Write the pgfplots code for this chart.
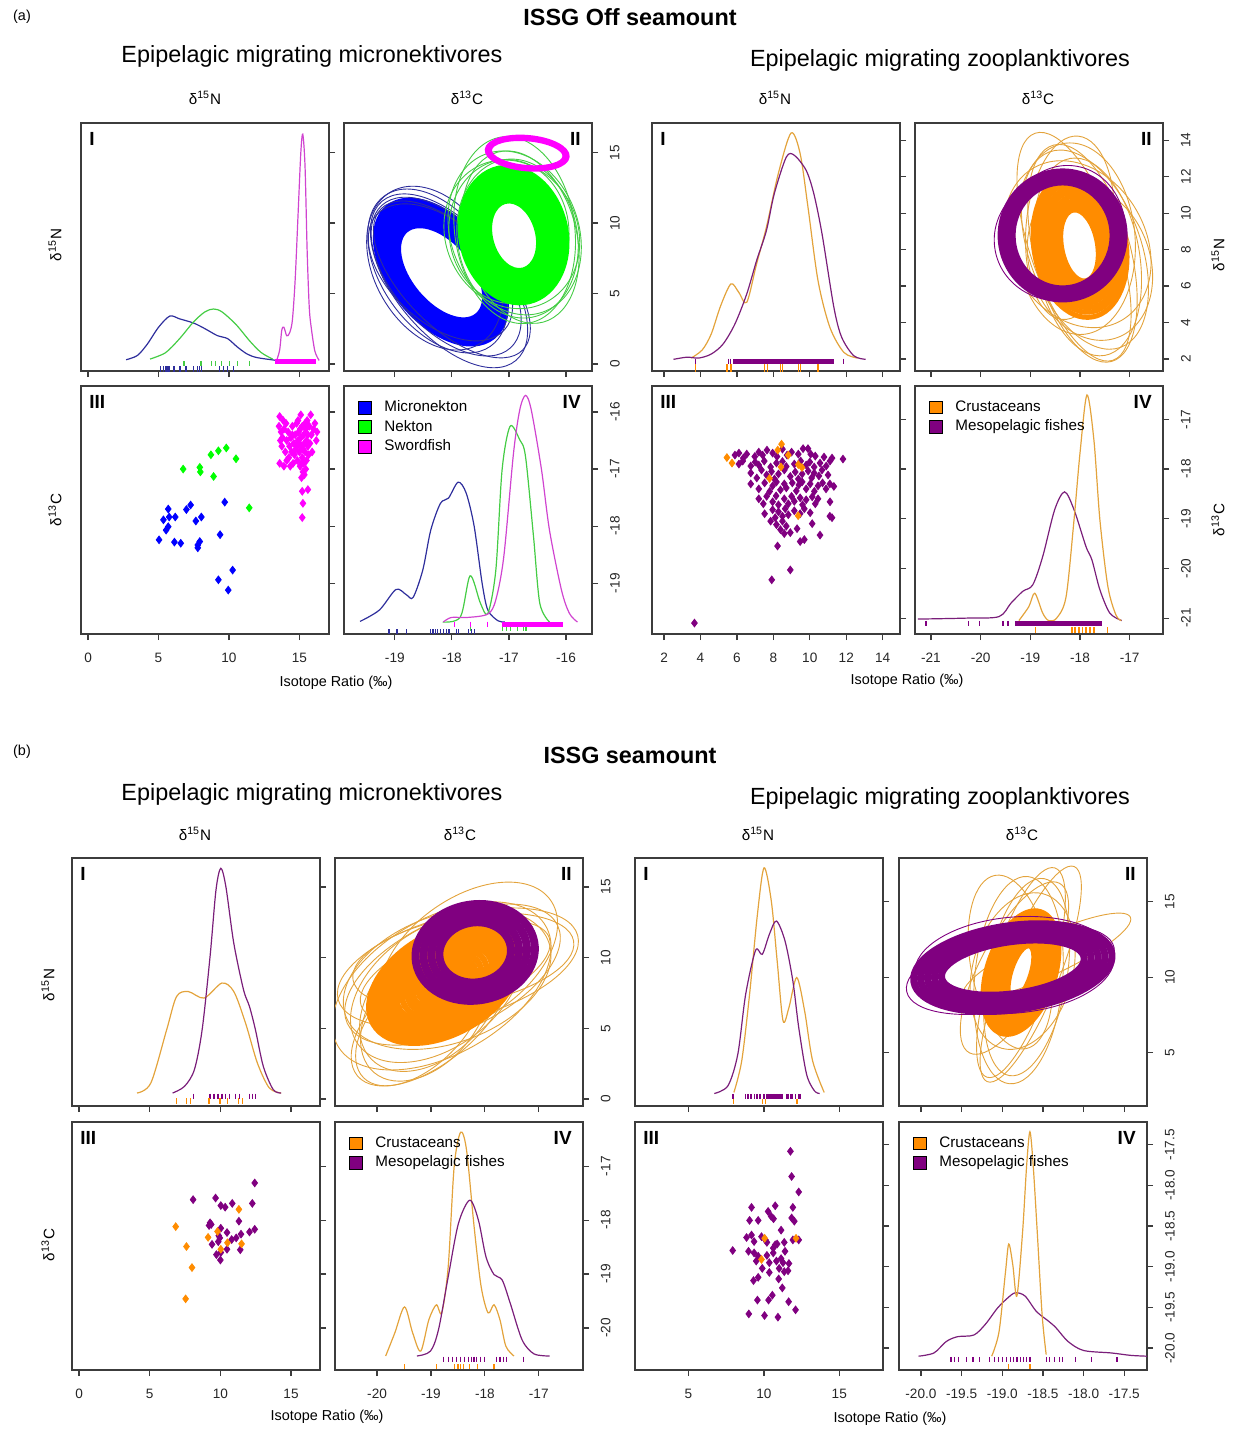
\documentclass[border=0pt]{standalone}
\usepackage{fontspec}
\setmainfont{Liberation Sans}
\usepackage{pgfplots}
\pgfplotsset{compat=1.18}

\definecolor{cblue}{HTML}{0000FF}
\definecolor{cnavy}{HTML}{2E2E9C}
\definecolor{cgreen}{HTML}{00FF00}
\definecolor{cgreenl}{HTML}{44CC44}
\definecolor{cmag}{HTML}{FF00FF}
\definecolor{cmagl}{HTML}{D044D0}
\definecolor{corange}{HTML}{FF8C00}
\definecolor{corangel}{HTML}{E3A33C}
\definecolor{cpurple}{HTML}{800080}
\definecolor{cpurplel}{HTML}{7A1E7A}
\definecolor{frame}{HTML}{3C3C3C}

\newcommand{\tf}{\fontsize{6.8}{8}\selectfont}
\newcommand{\lf}{\fontsize{7.2}{8.5}\selectfont}
\newcommand{\df}{\fontsize{7.6}{9}\selectfont}
\newcommand{\legf}{\fontsize{7.6}{9}\selectfont}
\newcommand{\titf}{\fontsize{11.7}{14}\selectfont}
\newcommand{\plab}{\fontsize{9.5}{11}\selectfont\bfseries}
\newcommand{\dN}{δ\textsuperscript{15}N}
\newcommand{\dC}{δ\textsuperscript{13}C}

\pgfdeclareplotmark{ell}{%
  \pgfmathsetmacro\ellA{\ellrot}%
  \pgfmathsetmacro\ellB{\ellrot+90}%
  \pgfpathellipse{\pgfpointorigin}{\pgfpointpolar{\ellA}{\ellrx pt}}{\pgfpointpolar{\ellB}{\ellry pt}}%
  \pgfusepathqstroke}

\pgfplotsset{
  panel/.style={scale only axis, width=124pt, height=124pt, anchor=north west,
    axis line style={draw=frame, line width=0.6pt},
    tick align=outside, major tick length=3pt,
    every tick/.style={draw=frame, line width=0.6pt},
    xtick pos=bottom, ytick pos=right,
    xticklabel pos=bottom, yticklabel pos=right,
    ticklabel style={font=\tf, text=black!85},
    xticklabel style={inner ysep=6.3pt},
    yticklabel style={rotate=90, anchor=north, inner ysep=5.8pt},
    clip marker paths=true,
    legend image code/.code={\draw[##1, draw=black, line width=0.4pt] (0pt,-3.2pt) rectangle (6.4pt,3.2pt);},
    legend style={draw=none, fill=none, font=\legf, anchor=north west, row sep=-1.2pt,
      /tikz/every odd column/.append style={column sep=4.5pt}},
    legend cell align=left},
  ell/.style 2 args={scatter, only marks, mark=ell,
    scatter/use mapped color={draw=#1, fill=none},
    line width=#2, mark options={line width=#2},
    visualization depends on={value \thisrow{rx}\as\ellrx},
    visualization depends on={value \thisrow{ry}\as\ellry},
    visualization depends on={value \thisrow{rot}\as\ellrot}},
  dens/.style={smooth, no marks, line width=0.6pt, draw=#1},
  rug/.style={only marks, mark=|, mark size=1.3pt, draw=#1, mark options={line width=0.6pt, draw=#1}},
  band/.style={no marks, line width=2.5pt, draw=#1},
  pts/.style={only marks, mark=diamond*, mark size=1.9pt, draw=#1, fill=#1, mark options={draw=#1, fill=#1}},
}

\begin{document}
\begin{tikzpicture}
\useasboundingbox (0,0) rectangle (617.5pt,-715pt);

%================ (a) TEXT =================
\node[font=\lf] at (11pt,-8.5pt) {(a)};
\node[font=\titf\bfseries] at (315pt,-8.5pt) {ISSG Off seamount};
\node[font=\titf] at (156pt,-28pt) {Epipelagic migrating micronektivores};
\node[font=\titf] at (470pt,-30pt) {Epipelagic migrating zooplanktivores};
\node[font=\df] at (102.5pt,-49pt) {\dN};
\node[font=\df] at (233.5pt,-49pt) {\dC};
\node[font=\df] at (387.5pt,-49pt) {\dN};
\node[font=\df] at (519pt,-49pt) {\dC};
\node[font=\df, rotate=90] at (27.5pt,-122.5pt) {\dN};
\node[font=\df, rotate=90] at (27.5pt,-255pt) {\dC};
\node[font=\df, rotate=90] at (609pt,-127.5pt) {\dN};
\node[font=\df, rotate=90] at (609pt,-260pt) {\dC};
\node[font=\lf] at (168pt,-341.5pt) {Isotope Ratio (‰)};
\node[font=\lf] at (453.5pt,-340.5pt) {Isotope Ratio (‰)};

%================ (b) TEXT =================
\node[font=\lf] at (11pt,-376pt) {(b)};
\node[font=\titf\bfseries] at (315pt,-377.5pt) {ISSG seamount};
\node[font=\titf] at (156pt,-397pt) {Epipelagic migrating micronektivores};
\node[font=\titf] at (470pt,-399pt) {Epipelagic migrating zooplanktivores};
\node[font=\df] at (97.5pt,-417pt) {\dN};
\node[font=\df] at (230pt,-417pt) {\dC};
\node[font=\df] at (379pt,-417pt) {\dN};
\node[font=\df] at (511pt,-417pt) {\dC};
\node[font=\df, rotate=90] at (24pt,-492.5pt) {\dN};
\node[font=\df, rotate=90] at (24pt,-622.5pt) {\dC};
\node[font=\lf] at (163.5pt,-708.5pt) {Isotope Ratio (‰)};
\node[font=\lf] at (445pt,-709.5pt) {Isotope Ratio (‰)};

%================ A-L-I =================
\begin{axis}[panel, at={(40.5pt,-61.5pt)}, xmin=-0.5, xmax=17.1, ymin=-0.5, ymax=17.1,
  xtick={0,5,10,15}, xticklabels={}, ytick={0,5,10,15}, yticklabels={}]
\addplot[dens=cnavy] coordinates {(2.7,0.3) (3.5,0.6) (4.2,1.4) (5.0,2.6) (5.8,3.4) (6.5,3.2) (7.5,2.9) (8.3,2.5) (9.2,2.0) (9.9,1.8) (10.6,1.2) (11.3,0.7) (12.0,0.45) (13.4,0.25)};
\addplot[dens=cgreenl] coordinates {(4.4,0.35) (5.5,0.8) (6.5,1.8) (7.5,3.0) (8.3,3.7) (8.9,3.9) (9.5,3.7) (10.5,2.8) (11.5,1.6) (12.3,0.8) (13.1,0.35)};
\addplot[dens=cmagl] coordinates {(13.4,0.3) (13.6,1.0) (13.75,2.4) (13.9,2.6) (14.1,2.0) (14.3,2.2) (14.5,3.1) (14.7,6) (14.9,10.5) (15.1,15) (15.24,16.3) (15.4,14) (15.55,8) (15.7,4) (15.85,2.5) (16.1,0.9) (16.4,0.25)};
\addplot[rug=cnavy] coordinates {(5.12,-0.36) (5.34,-0.36) (5.49,-0.36) (5.6,-0.36) (5.74,-0.36) (6.1,-0.36) (6.52,-0.36) (6.95,-0.36) (7.51,-0.36) (7.79,-0.36) (7.93,-0.36) (8.07,-0.36) (9.34,-0.36) (9.62,-0.36) (9.9,-0.36) (10.32,-0.36)};
\addplot[rug=cgreenl] coordinates {(6.81,0.03) (8.02,0.03) (8.78,0.03) (9.05,0.03) (9.47,0.03) (10.04,0.03) (10.6,0.03) (11.44,0.03)};
\addplot[band=cmag] coordinates {(13.3,0.2) (16.2,0.2)};
\node[anchor=north west, inner sep=0pt, font=\plab] at (rel axis cs:0.032,0.963) {I};
\end{axis}

%================ A-L-II =================
\begin{axis}[panel, at={(172pt,-61.5pt)}, xmin=-19.89, xmax=-15.545, ymin=-0.5, ymax=17.1,
  xtick={-19,-18,-17,-16}, xticklabels={}, ytick={0,5,10,15}, yticklabels={0,5,10,15}]
\addplot[ell={cblue}{3pt}] table {
x y rx ry rot
-18.18 6.47 28 16 -50
-18.18 6.47 30 17.2 -50
-18.18 6.47 32 18.4 -50
-18.18 6.47 34 19.6 -50
-18.18 6.47 36 20.8 -50
-18.18 6.47 38 22 -50
-18.16 6.43 40 23.2 -49
-18.20 6.52 41.5 24.4 -51
};
\addplot[ell={cnavy}{0.45pt}] table {
x y rx ry rot
-18.10 6.20 48 26 -48
-18.25 6.60 46 28 -55
-18.00 6.00 50 24 -45
-18.30 6.80 44 30 -60
-18.05 5.90 52 27 -50
-18.20 6.50 43 25 -42
};
\addplot[ell={cgreenl}{0.45pt}] table {
x y rx ry rot
-16.90 9.30 42 32 -70
-16.85 8.90 40 30 -80
-16.95 9.20 38 33 -65
-16.80 9.00 44 28 -75
-17.00 9.40 36 30 -85
-16.90 9.50 47 30 -82
};
\addplot[ell={cgreen}{3pt}] table {
x y rx ry rot
-16.91 9.10 18 12 -75
-16.91 9.10 20 13.75 -75
-16.91 9.10 22 15.5 -75
-16.91 9.10 24 17.25 -75
-16.91 9.10 26 19 -75
-16.91 9.10 28 20.75 -75
-16.91 9.10 30 22.5 -75
-16.91 9.10 32 24.25 -75
-16.92 9.15 34 26 -77
};
\addplot[ell={cmag}{1.6pt}] table {
x y rx ry rot
-16.68 14.96 19.5 7.5 -5
-16.68 14.96 18.5 6.7 -5
-16.68 14.96 20.5 8.3 -5
};
\node[anchor=north east, inner sep=0pt, font=\plab] at (rel axis cs:0.956,0.963) {II};
\end{axis}

%================ A-L-III =================
\begin{axis}[panel, at={(40.5pt,-193pt)}, xmin=-0.5, xmax=17.1, ymin=-19.89, ymax=-15.545,
  xtick={0,5,10,15}, xticklabels={0,5,10,15}, ytick={-19,-18,-17,-16}, yticklabels={}]
\addplot[pts=cblue] coordinates {(5.04,-18.24) (5.69,-17.70) (5.35,-17.89) (5.76,-17.84) (6.19,-17.84) (5.54,-18.07) (5.69,-18.01) (6.13,-18.28) (6.58,-18.30) (6.98,-17.71) (7.28,-17.63) (7.65,-17.91) (8.04,-17.84) (7.79,-18.33) (7.93,-18.27) (7.79,-18.38) (9.37,-18.15) (9.70,-17.58) (9.25,-18.94) (10.26,-18.77) (9.95,-19.12)};
\addplot[pts=cgreen] coordinates {(6.75,-17.0) (7.93,-16.97) (7.97,-17.05) (8.72,-16.75) (9.25,-16.68) (9.81,-16.63) (10.5,-16.82) (8.91,-17.13) (11.44,-17.68)};
\addplot[pts=cmag] coordinates {(13.6,-16.08) (13.55,-16.25) (13.7,-16.35) (13.65,-16.5) (13.8,-16.45) (13.9,-16.3) (13.75,-16.6) (13.6,-16.9) (13.9,-16.95) (14.0,-16.7) (14.1,-16.5) (14.05,-16.2) (14.2,-16.35) (14.3,-16.6) (14.25,-16.8) (14.4,-16.45) (14.5,-16.25) (14.45,-16.7) (14.6,-16.55) (14.55,-16.9) (14.7,-16.4) (14.75,-16.65) (14.8,-16.2) (14.85,-16.85) (14.9,-16.5) (14.95,-16.35) (15.0,-16.7) (15.05,-16.95) (15.1,-16.05) (15.1,-16.45) (15.15,-16.6) (15.2,-16.25) (15.2,-16.8) (15.25,-17.05) (15.3,-16.4) (15.3,-16.9) (15.35,-16.55) (15.4,-16.7) (15.45,-16.3) (15.45,-17.0) (15.5,-16.5) (15.5,-16.85) (15.55,-16.15) (15.6,-16.6) (15.6,-16.4) (15.65,-16.75) (15.7,-16.25) (15.75,-16.55) (15.8,-16.05) (15.85,-16.4) (15.9,-16.7) (16.0,-16.3) (16.1,-16.2) (16.25,-16.35) (16.2,-16.5) (15.05,-16.3) (14.9,-16.15) (14.65,-16.75) (14.35,-16.95) (15.15,-17.15) (15.35,-17.1) (15.15,-16.9) (14.8,-16.6) (15.0,-16.55) (15.25,-16.65) (14.5,-16.4) (15.4,-16.2) (14.1,-16.85) (13.85,-16.15) (15.2,-17.39) (15.6,-17.36) (15.25,-17.6) (15.2,-17.85)};
\node[anchor=north west, inner sep=0pt, font=\plab] at (rel axis cs:0.032,0.963) {III};
\end{axis}

%================ A-L-IV =================
\begin{axis}[panel, at={(172pt,-193pt)}, xmin=-19.89, xmax=-15.545, ymin=-19.89, ymax=-15.545,
  xtick={-19,-18,-17,-16}, xticklabels={-19,-18,-17,-16}, ytick={-19,-18,-17,-16}, yticklabels={-19,-18,-17,-16},
  legend style={at={(0.03,0.975)}}]
\addlegendimage{fill=cblue}\addlegendentry{Micronekton}
\addlegendimage{fill=cgreen}\addlegendentry{Nekton}
\addlegendimage{fill=cmag}\addlegendentry{Swordfish}
\addplot[dens=cnavy] coordinates {(-19.61,-19.67) (-19.27,-19.47) (-18.98,-19.11) (-18.8,-19.2) (-18.68,-19.25) (-18.51,-18.77) (-18.37,-18.07) (-18.2,-17.6) (-18.06,-17.51) (-17.89,-17.23) (-17.75,-17.42) (-17.61,-18.0) (-17.47,-19.0) (-17.37,-19.47) (-17.19,-19.66) (-17.07,-19.68)};
\addplot[dens=cgreenl] coordinates {(-18.16,-19.68) (-17.85,-19.59) (-17.68,-18.87) (-17.5,-19.35) (-17.37,-19.53) (-17.23,-18.77) (-17.12,-17.01) (-16.98,-16.25) (-16.81,-16.49) (-16.71,-16.78) (-16.57,-18.18) (-16.46,-19.35) (-16.29,-19.68)};
\addplot[dens=cmagl] coordinates {(-18.15,-19.68) (-18.01,-19.6) (-17.73,-19.6) (-17.37,-19.54) (-17.23,-19.29) (-17.09,-18.53) (-16.92,-16.72) (-16.81,-15.96) (-16.71,-15.71) (-16.61,-15.96) (-16.43,-17.01) (-16.29,-18.07) (-16.08,-19.12) (-15.94,-19.53) (-15.80,-19.68)};
\addplot[rug=cnavy] coordinates {(-19.1,-19.85) (-18.96,-19.85) (-18.79,-19.85) (-18.37,-19.85) (-18.33,-19.85) (-18.29,-19.85) (-18.25,-19.85) (-18.2,-19.85) (-18.15,-19.85) (-18.1,-19.85) (-18.05,-19.85) (-17.92,-19.85) (-17.89,-19.85) (-17.71,-19.85) (-17.66,-19.85) (-17.61,-19.85)};
\addplot[rug=cgreenl] coordinates {(-17.68,-19.79) (-17.12,-19.79) (-17.05,-19.79) (-16.98,-19.79) (-16.85,-19.79) (-16.75,-19.79) (-16.7,-19.79)};
\addplot[rug=cmag] coordinates {(-17.95,-19.72) (-17.68,-19.72) (-17.38,-19.72)};
\addplot[band=cmag] coordinates {(-17.12,-19.72) (-16.05,-19.72)};
\node[anchor=north east, inner sep=0pt, font=\plab] at (rel axis cs:0.956,0.963) {IV};
\end{axis}

%================ A-R-I =================
\begin{axis}[panel, at={(326pt,-61.5pt)}, xmin=1.34, xmax=14.95, ymin=1.34, ymax=14.95,
  xtick={2,4,...,14}, xticklabels={}, ytick={2,4,...,14}, yticklabels={}]
\addplot[dens=corangel] coordinates {(3.49,2.05) (4.1,2.5) (4.59,3.37) (5.1,4.9) (5.67,6.12) (6.1,5.66) (6.54,5.11) (7.08,7.22) (7.62,9.24) (8.27,12.17) (8.97,14.4) (9.47,13.27) (9.9,10.33) (10.45,6.3) (11.1,3.74) (11.87,2.36) (12.62,2.05)};
\addplot[dens=cpurplel] coordinates {(2.52,1.98) (3.27,2.1) (3.9,2.05) (4.59,2.27) (5.24,2.82) (5.89,3.92) (6.54,5.57) (7.08,7.4) (7.62,9.05) (8.05,11.07) (8.71,13.08) (9.15,13.18) (9.8,12.35) (10.22,11.07) (10.67,8.87) (11.32,4.84) (11.75,3.19) (12.41,2.18) (13.06,1.98)};
\addplot[band=cpurple] coordinates {(5.8,1.88) (11.3,1.88)};
\addplot[rug=cpurple] coordinates {(3.71,1.88) (5.55,1.88) (5.65,1.88) (11.87,1.88)};
\addplot[rug=corange, mark size=1.8pt] coordinates {(3.71,1.5) (5.45,1.5) (5.67,1.5) (7.52,1.5) (7.67,1.5) (8.38,1.5) (8.49,1.5) (9.37,1.5) (9.48,1.5) (10.45,1.5)};
\node[anchor=north west, inner sep=0pt, font=\plab] at (rel axis cs:0.032,0.963) {I};
\end{axis}

%================ A-R-II =================
\begin{axis}[panel, at={(457.5pt,-61.5pt)}, xmin=-21.32, xmax=-16.33, ymin=1.34, ymax=14.95,
  xtick={-21,-20,-19,-18,-17}, xticklabels={}, ytick={2,4,...,14}, yticklabels={2,4,6,8,10,12,14}]
\addplot[ell={corangel}{0.45pt}] table {
x y rx ry rot
-17.90 8.00 52 28 -70
-18.10 8.60 48 30 -85
-17.95 7.80 56 24 -75
-18.05 8.30 44 34 -60
-17.85 7.60 50 26 -80
-18.20 9.20 46 22 -95
-17.80 7.30 40 30 -70
-18.12 8.16 60 22 -71
};
\addplot[ell={corange}{2.5pt}] table {
x y rx ry rot
-18.01 8.23 18 9 -80
-18.01 8.23 20.25 10.75 -80
-18.01 8.23 22.5 12.5 -80
-18.01 8.23 24.75 14.25 -80
-18.01 8.23 27 16 -79
-18.01 8.23 29.25 17.75 -79
-18.01 8.23 31.5 19.5 -78
-18.01 8.23 33.75 21.25 -79
-18.00 8.20 36 23 -80
};
\addplot[ell={cpurple}{3pt}] table {
x y rx ry rot
-18.35 8.78 25 26.5 0
-18.35 8.78 26.5 28 0
-18.35 8.78 28 29.5 0
-18.35 8.78 29.5 30.75 0
-18.35 8.78 31 32 0
};
\addplot[ell={cpurple}{0.45pt}] table {
x y rx ry rot
-18.40 8.60 33 31 10
-18.30 8.90 30 34 -10
};
\node[anchor=north east, inner sep=0pt, font=\plab] at (rel axis cs:0.956,0.963) {II};
\end{axis}

%================ A-R-III =================
\begin{axis}[panel, at={(326pt,-193pt)}, xmin=1.34, xmax=14.95, ymin=-21.32, ymax=-16.33,
  xtick={2,4,...,14}, xticklabels={2,4,6,8,10,12,14}, ytick={-21,-20,-19,-18,-17}, yticklabels={}]
\addplot[pts=cpurple] coordinates {
(5.89,-17.72) (6.11,-17.68) (6.35,-17.78) (6.54,-17.70) (6.98,-17.75) (7.2,-17.66) (7.41,-17.72) (7.65,-17.62) (7.96,-17.68) (8.2,-17.75) (8.5,-17.6) (8.75,-17.72) (9.0,-17.66) (9.37,-17.7) (9.63,-17.59) (9.9,-17.59) (10.3,-17.74) (10.78,-17.76) (11.22,-17.78) (11.82,-17.8) (10.05,-17.7)
(6.11,-17.9) (6.32,-17.84) (6.76,-17.94) (7.0,-17.86) (7.2,-17.92) (7.5,-17.84) (7.85,-17.96) (8.17,-17.88) (8.5,-17.85) (8.71,-17.95) (9.15,-17.9) (9.5,-17.84) (9.8,-17.92) (10.0,-17.86) (10.24,-17.96) (10.56,-17.88) (10.9,-17.94) (11.11,-17.84)
(6.76,-18.08) (7.09,-18.18) (7.35,-18.02) (7.63,-18.12) (7.9,-18.05) (8.06,-18.2) (8.28,-18.1) (8.6,-18.02) (8.93,-18.15) (9.2,-18.06) (9.37,-18.2) (9.58,-18.1) (9.91,-18.04) (10.1,-18.18) (10.24,-18.08) (10.5,-18.14) (10.67,-18.02) (11.0,-18.12)
(6.76,-18.3) (7.2,-18.4) (7.52,-18.28) (7.8,-18.45) (7.96,-18.34) (8.17,-18.26) (8.39,-18.42) (8.6,-18.3) (8.71,-18.38) (9.04,-18.28) (9.26,-18.44) (9.4,-18.32) (9.58,-18.26) (9.8,-18.4) (10.02,-18.3) (10.25,-18.45) (10.45,-18.34) (10.7,-18.28) (10.89,-18.4) (11.1,-18.3) (11.32,-18.35) (11.1,-18.95)
(7.2,-18.6) (7.45,-18.7) (7.63,-18.55) (7.96,-18.66) (8.15,-18.54) (8.28,-18.72) (8.6,-18.6) (8.82,-18.7) (9.0,-18.55) (9.15,-18.65) (9.47,-18.58) (9.6,-18.72) (9.8,-18.62) (10.13,-18.56) (10.3,-18.7) (10.45,-18.6) (11.11,-18.66)
(7.52,-18.9) (7.96,-18.82) (8.1,-18.98) (8.28,-18.86) (8.5,-18.95) (8.65,-18.8) (8.82,-18.92) (9.15,-18.84) (9.47,-18.9) (9.7,-18.8) (10.02,-18.88) (11.22,-18.98)
(7.85,-19.05) (8.17,-19.12) (8.39,-19.22) (8.5,-19.05) (8.71,-19.15) (8.93,-19.28) (8.6,-19.3) (10.13,-19.1) (9.3,-19.2)
(8.23,-19.55) (9.47,-19.46) (9.7,-19.42) (10.56,-19.33)
(8.93,-20.03) (7.91,-20.23) (3.67,-21.1)};
\addplot[pts=corange] coordinates {(5.45,-17.77) (5.73,-17.88) (8.45,-17.5) (8.24,-17.62) (8.82,-17.72) (8.42,-17.96) (9.37,-17.91) (9.57,-17.97) (7.79,-18.19) (9.36,-18.94)};
\node[anchor=north west, inner sep=0pt, font=\plab] at (rel axis cs:0.032,0.963) {III};
\end{axis}

%================ A-R-IV =================
\begin{axis}[panel, at={(457.5pt,-193pt)}, xmin=-21.32, xmax=-16.33, ymin=-21.32, ymax=-16.33,
  xtick={-21,-20,-19,-18,-17}, xticklabels={-21,-20,-19,-18,-17}, ytick={-21,-20,-19,-18,-17}, yticklabels={-21,-20,-19,-18,-17},
  legend style={at={(0.03,0.975)}}]
\addlegendimage{fill=corange}\addlegendentry{Crustaceans}
\addlegendimage{fill=cpurple}\addlegendentry{Mesopelagic fishes}
\addplot[dens=cpurplel] coordinates {(-21.26,-21.02) (-20.27,-21.0) (-19.63,-20.97) (-19.39,-20.7) (-19.15,-20.46) (-18.95,-20.33) (-18.75,-19.76) (-18.51,-18.82) (-18.31,-18.46) (-18.12,-18.82) (-17.88,-19.56) (-17.76,-19.83) (-17.6,-20.43) (-17.4,-20.9) (-17.16,-21.05)};
\addplot[dens=corangel] coordinates {(-19.23,-21.05) (-19.03,-20.77) (-18.91,-20.5) (-18.75,-20.9) (-18.63,-21.05) (-18.47,-21.0) (-18.28,-20.57) (-18.12,-19.02) (-18.0,-17.68) (-17.86,-16.51) (-17.72,-17.42) (-17.6,-19.02) (-17.44,-20.36) (-17.28,-20.93) (-17.17,-21.05)};
\addplot[band=cpurple] coordinates {(-19.31,-21.11) (-17.56,-21.11)};
\addplot[rug=cpurple] coordinates {(-21.1,-21.11) (-20.25,-21.11) (-20.03,-21.11) (-19.55,-21.11) (-19.45,-21.11)};
\addplot[rug=corange] coordinates {(-18.9,-21.24) (-18.16,-21.24) (-18.1,-21.24) (-18.02,-21.24) (-17.95,-21.24) (-17.88,-21.24) (-17.8,-21.24) (-17.72,-21.24) (-17.44,-21.24)};
\node[anchor=north east, inner sep=0pt, font=\plab] at (rel axis cs:0.956,0.963) {IV};
\end{axis}

%================ B-L-I =================
\begin{axis}[panel, at={(36pt,-429pt)}, xmin=-0.5, xmax=17.05, ymin=-0.5, ymax=17.05,
  xtick={0,5,10,15}, xticklabels={}, ytick={0,5,10,15}, yticklabels={}]
\addplot[dens=corangel] coordinates {(4.1,0.42) (5.08,1.13) (6.2,4.9) (6.9,7.25) (7.73,7.6) (8.85,7.14) (10.11,8.2) (10.95,7.6) (11.78,5.37) (12.62,2.54) (13.46,0.78) (14.3,0.42)};
\addplot[dens=cpurplel] coordinates {(6.62,0.42) (7.46,0.89) (8.16,2.07) (8.71,4.9) (9.27,10.08) (9.69,14.79) (10.03,16.32) (10.39,15.02) (10.95,11.02) (11.64,7.72) (12.06,6.54) (12.48,4.9) (13.04,2.3) (13.74,0.66) (14.3,0.42)};
\addplot[rug=cpurple] coordinates {(8.07,0.2) (9.27,0.2) (9.55,0.2) (9.83,0.2) (10.11,0.2) (10.39,0.2) (10.66,0.2) (11.09,0.2) (11.36,0.2) (12.06,0.2) (12.29,0.2) (12.48,0.2)};
\addplot[rug=corange] coordinates {(6.9,-0.15) (7.6,-0.15) (7.87,-0.15) (9.19,-0.15) (9.97,-0.15) (10.53,-0.15) (11.31,-0.15) (11.56,-0.15)};
\node[anchor=north west, inner sep=0pt, font=\plab] at (rel axis cs:0.032,0.963) {I};
\end{axis}

%================ B-L-II =================
\begin{axis}[panel, at={(167.5pt,-429pt)}, xmin=-20.78, xmax=-16.18, ymin=-0.5, ymax=17.05,
  xtick={-20,-19,-18,-17}, xticklabels={}, ytick={0,5,10,15}, yticklabels={0,5,10,15}]
\addplot[ell={corangel}{0.45pt}] table {
x y rx ry rot
-18.60 8.80 58 28 25
-18.70 8.50 54 32 20
-18.50 9.30 62 26 15
-18.90 7.80 48 30 35
-18.40 9.80 56 22 10
-18.80 8.00 60 34 30
-19.00 7.00 42 28 45
-18.55 9.00 50 20 20
-18.30 10.00 50 30 35
-19.10 6.20 40 26 50
-19.20 5.50 40 22 45
-19.00 6.00 48 24 40
};
\addplot[ell={corange}{3pt}] table {
x y rx ry rot
-18.75 8.20 3 2 30
-18.75 8.20 6 3.8 30
-18.75 8.20 9 5.5 30
-18.75 8.20 11.5 7 30
-18.75 8.20 14 8.5 30
-18.75 8.20 17 10 30
-18.75 8.20 20 11.8 30
-18.75 8.20 23 13.5 30
-18.75 8.20 26 15 30
-18.75 8.20 28.5 16.7 30
-18.75 8.20 31 18.4 30
-18.75 8.20 33.5 20.1 30
-18.75 8.20 36 21.8 30
-18.75 8.20 38.5 23.5 30
-18.75 8.20 41 25.2 30
-18.95 7.20 24 17 40
-18.45 9.40 30 16 30
};
\addplot[ell={cpurple}{4pt}] table {
x y rx ry rot
-18.18 10.37 18 15 10
-18.18 10.37 22 18 10
-18.18 10.37 26 21 10
-18.18 10.37 30 24 10
};
\node[anchor=north east, inner sep=0pt, font=\plab] at (rel axis cs:0.956,0.963) {II};
\end{axis}

%================ B-L-III =================
\begin{axis}[panel, at={(36pt,-561pt)}, xmin=-0.5, xmax=17.05, ymin=-20.78, ymax=-16.18,
  xtick={0,5,10,15}, xticklabels={0,5,10,15}, ytick={-20,-19,-18,-17}, yticklabels={}]
\addplot[pts=cpurple] coordinates {(12.43,-17.31) (8.07,-17.62) (9.66,-17.59) (10.03,-17.73) (10.34,-17.76) (10.84,-17.69) (12.26,-17.69) (11.31,-18.02) (9.27,-18.05) (9.2,-18.1) (9.35,-18.08) (10.03,-18.15) (10.47,-18.23) (9.89,-18.29) (9.96,-18.33) (9.85,-18.40) (9.41,-18.45) (10.8,-18.36) (11.12,-18.33) (11.46,-18.26) (12.06,-18.22) (12.43,-18.17) (10.47,-18.54) (10.03,-18.6) (9.72,-18.64) (10.0,-18.74) (11.41,-18.55)};
\addplot[pts=corange] coordinates {(6.84,-18.12) (11.31,-17.80) (7.6,-18.49) (9.13,-18.32) (9.8,-18.21) (10.5,-18.42) (11.5,-18.44) (10.03,-18.54) (7.99,-18.88) (7.54,-19.46)};
\node[anchor=north west, inner sep=0pt, font=\plab] at (rel axis cs:0.032,0.963) {III};
\end{axis}

%================ B-L-IV =================
\begin{axis}[panel, at={(167.5pt,-561pt)}, xmin=-20.78, xmax=-16.18, ymin=-20.78, ymax=-16.18,
  xtick={-20,-19,-18,-17}, xticklabels={-20,-19,-18,-17}, ytick={-20,-19,-18,-17}, yticklabels={-20,-19,-18,-17},
  legend style={at={(0.03,0.975)}}]
\addlegendimage{fill=corange}\addlegendentry{Crustaceans}
\addlegendimage{fill=cpurple}\addlegendentry{Mesopelagic fishes}
\addplot[dens=corangel] coordinates {(-19.84,-20.52) (-19.67,-20.09) (-19.49,-19.61) (-19.34,-20.09) (-19.19,-20.43) (-19.04,-19.85) (-18.9,-19.57) (-18.8,-19.72) (-18.68,-18.86) (-18.57,-17.01) (-18.45,-16.37) (-18.34,-16.7) (-18.2,-18.12) (-18.07,-19.23) (-17.94,-19.72) (-17.83,-19.57) (-17.72,-19.85) (-17.61,-20.34) (-17.46,-20.52)};
\addplot[dens=cpurplel] coordinates {(-19.26,-20.52) (-19.01,-20.43) (-18.86,-20.03) (-18.68,-19.05) (-18.49,-18.06) (-18.28,-17.63) (-18.12,-18.0) (-17.98,-18.68) (-17.83,-19.01) (-17.68,-19.11) (-17.53,-19.54) (-17.31,-20.22) (-17.09,-20.48) (-16.8,-20.52)};
\addplot[rug=cpurple] coordinates {(-18.77,-20.58) (-18.68,-20.58) (-18.6,-20.58) (-18.52,-20.58) (-18.45,-20.58) (-18.38,-20.58) (-18.3,-20.58) (-18.25,-20.58) (-18.2,-20.58) (-18.15,-20.58) (-18.08,-20.58) (-18.0,-20.58) (-17.78,-20.58) (-17.72,-20.58) (-17.66,-20.58) (-17.6,-20.58) (-17.28,-20.58)};
\addplot[rug=corange] coordinates {(-19.49,-20.72) (-18.9,-20.72) (-18.57,-20.72) (-18.5,-20.72) (-18.45,-20.72) (-18.39,-20.72) (-18.28,-20.72) (-18.13,-20.72) (-17.83,-20.72)};
\node[anchor=north east, inner sep=0pt, font=\plab] at (rel axis cs:0.956,0.963) {IV};
\end{axis}

%================ B-R-I =================
\begin{axis}[panel, at={(317.5pt,-429pt)}, xmin=1.45, xmax=17.9, ymin=1.45, ymax=17.9,
  xtick={5,10,15}, xticklabels={}, ytick={5,10,15}, yticklabels={}]
\addplot[dens=corangel] coordinates {(8.01,2.35) (8.53,4.45) (9.05,8.86) (9.57,14.16) (10.01,17.25) (10.49,15.05) (10.88,11.07) (11.27,7.1) (11.66,7.98) (12.18,9.97) (12.7,7.76) (13.23,4.45) (14.0,2.35)};
\addplot[dens=cpurplel] coordinates {(6.71,2.28) (7.62,2.8) (8.27,4.89) (8.79,8.86) (9.45,11.78) (9.89,11.51) (10.36,12.83) (10.83,13.72) (11.4,12.4) (11.92,9.75) (12.31,6.66) (12.83,3.56) (13.35,2.46) (13.7,2.28)};
\addplot[rug=cpurple] coordinates {(7.95,2.09) (8.8,2.09) (8.9,2.09) (9.0,2.09) (9.1,2.09) (9.2,2.09) (9.35,2.09) (9.5,2.09) (9.6,2.09) (9.7,2.09) (9.8,2.09) (9.95,2.09) (10.05,2.09) (10.2,2.09) (10.3,2.09) (10.4,2.09) (10.5,2.09) (10.6,2.09) (10.7,2.09) (10.8,2.09) (10.9,2.09) (11.0,2.09) (11.1,2.09) (11.2,2.09) (11.5,2.09) (11.6,2.09) (11.8,2.09) (11.9,2.09) (12.1,2.09) (12.3,2.09) (12.4,2.09)};
\addplot[rug=corange] coordinates {(8.0,1.75) (9.9,1.75) (10.1,1.75) (12.2,1.75)};
\node[anchor=north west, inner sep=0pt, font=\plab] at (rel axis cs:0.032,0.963) {I};
\end{axis}

%================ B-R-II =================
\begin{axis}[panel, at={(449.5pt,-429pt)}, xmin=-20.27, xmax=-17.22, ymin=1.45, ymax=17.9,
  xtick={-20,-19.5,-19,-18.5,-18,-17.5}, xticklabels={}, ytick={5,10,15}, yticklabels={5,10,15}]
\addplot[ell={corangel}{0.45pt}] table {
x y rx ry rot
-18.77 10.30 55 15 72
-18.70 10.00 50 20 80
-18.85 10.60 48 17 62
-18.45 11.40 46 10 25
-18.80 9.80 52 22 85
-18.90 11.00 44 20 100
-18.65 10.20 58 14 68
-18.75 10.40 40 25 75
};
\addplot[ell={corange}{2.5pt}] table {
x y rx ry rot
-18.77 10.30 14 5 72
-18.77 10.30 16 6.3 72
-18.77 10.30 18 7.6 72
-18.77 10.30 20 9 72
-18.77 10.30 22 10.3 72
-18.77 10.30 24 11.6 72
-18.77 10.30 26 13 72
-18.77 10.30 28 14.3 72
-18.77 10.30 30 15.6 72
-18.77 10.30 32 17 72
};
\addplot[ell={cpurple}{3.5pt}] table {
x y rx ry rot
-18.87 10.63 36 13 8
-18.87 10.63 39.5 15 8
-18.87 10.63 43 17 8
-18.87 10.63 46.5 19 8
-18.87 10.63 50 21 8
};
\addplot[ell={cpurple}{0.45pt}] table {
x y rx ry rot
-18.90 10.50 53 20 12
-18.85 10.80 50 24 5
};
\node[anchor=north east, inner sep=0pt, font=\plab] at (rel axis cs:0.956,0.963) {II};
\end{axis}

%================ B-R-III =================
\begin{axis}[panel, at={(317.5pt,-561pt)}, xmin=1.45, xmax=17.9, ymin=-20.27, ymax=-17.22,
  xtick={5,10,15}, xticklabels={5,10,15}, ytick={-20,-19.5,-19,-18.5,-18,-17.5}, yticklabels={}]
\addplot[pts=cpurple] coordinates {(11.76,-17.58) (11.84,-17.89) (12.31,-18.08) (9.18,-18.27) (10.75,-18.25) (10.28,-18.32) (11.92,-18.27) (10.48,-18.38) (10.64,-18.41) (11.84,-18.40) (9.05,-18.43) (9.62,-18.43) (12.02,-18.44) (11.14,-18.55) (9.18,-18.61) (8.85,-18.64) (9.84,-18.63) (9.35,-18.69) (10.1,-18.67) (10.2,-18.70) (10.75,-18.73) (10.88,-18.72) (11.35,-18.70) (11.92,-18.67) (12.31,-18.67) (7.93,-18.80) (8.98,-18.81) (9.35,-18.83) (9.62,-18.87) (10.2,-18.86) (10.62,-18.83) (11.4,-18.81) (9.49,-18.93) (10.36,-18.95) (10.83,-18.93) (11.14,-18.90) (11.27,-18.95) (11.66,-18.96) (9.89,-19.02) (11.01,-19.02) (10.36,-19.07) (11.35,-19.06) (11.6,-19.05) (9.62,-19.13) (9.31,-19.17) (10.98,-19.15) (11.22,-19.26) (10.56,-19.35) (9.57,-19.41) (10.31,-19.41) (11.64,-19.43) (12.1,-19.53) (9.0,-19.58) (10.04,-19.60) (10.93,-19.62) (10.62,-18.77)};
\addplot[pts=corange] coordinates {(10.05,-18.65) (12.13,-18.65) (9.84,-18.91)};
\node[anchor=north west, inner sep=0pt, font=\plab] at (rel axis cs:0.032,0.963) {III};
\end{axis}

%================ B-R-IV =================
\begin{axis}[panel, at={(449.5pt,-561pt)}, xmin=-20.27, xmax=-17.22, ymin=-20.27, ymax=-17.22,
  xtick={-20,-19.5,-19,-18.5,-18,-17.5}, xticklabels={-20.0,-19.5,-19.0,-18.5,-18.0,-17.5},
  ytick={-20,-19.5,-19,-18.5,-18,-17.5}, yticklabels={-20.0,-19.5,-19.0,-18.5,-18.0,-17.5},
  legend style={at={(0.03,0.975)}}]
\addlegendimage{fill=corange}\addlegendentry{Crustaceans}
\addlegendimage{fill=cpurple}\addlegendentry{Mesopelagic fishes}
\addplot[dens=cpurplel] coordinates {(-20.03,-20.10) (-19.84,-20.06) (-19.69,-19.92) (-19.55,-19.86) (-19.35,-19.84) (-19.21,-19.71) (-19.06,-19.51) (-18.94,-19.39) (-18.84,-19.32) (-18.72,-19.36) (-18.58,-19.55) (-18.43,-19.67) (-18.34,-19.75) (-18.19,-19.92) (-18.0,-20.03) (-17.66,-20.06) (-17.42,-20.09) (-17.22,-20.1)};
\addplot[dens=corangel] coordinates {(-19.13,-20.1) (-19.04,-19.8) (-18.96,-19.06) (-18.92,-18.72) (-18.87,-18.98) (-18.82,-19.36) (-18.75,-18.57) (-18.7,-17.75) (-18.66,-17.34) (-18.62,-17.75) (-18.57,-18.57) (-18.51,-19.59) (-18.46,-20.08)};
\addplot[rug=cpurple] coordinates {(-19.63,-20.14) (-19.59,-20.14) (-19.54,-20.14) (-19.44,-20.14) (-19.36,-20.14) (-19.28,-20.14) (-19.16,-20.14) (-19.1,-20.14) (-19.05,-20.14) (-19.0,-20.14) (-18.95,-20.14) (-18.9,-20.14) (-18.86,-20.14) (-18.82,-20.14) (-18.78,-20.14) (-18.74,-20.14) (-18.7,-20.14) (-18.66,-20.14) (-18.46,-20.14) (-18.42,-20.14) (-18.36,-20.14) (-18.3,-20.14) (-18.26,-20.14) (-18.1,-20.14) (-17.9,-20.14) (-17.59,-20.14)};
\addplot[rug=corange] coordinates {(-18.92,-20.23) (-18.66,-20.23)};
\node[anchor=north east, inner sep=0pt, font=\plab] at (rel axis cs:0.956,0.963) {IV};
\end{axis}

\end{tikzpicture}
\end{document}
